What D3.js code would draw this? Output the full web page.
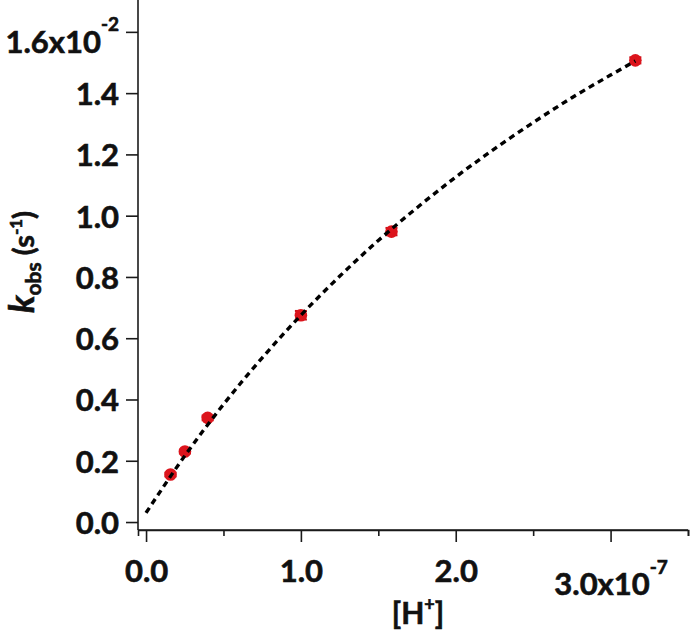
<!DOCTYPE html>
<html>
<head>
<meta charset="utf-8">
<script src="https://cdn.jsdelivr.net/npm/d3@7"></script>
<style>
  html, body { margin: 0; padding: 0; background: #fff; }
  svg text { font-family: Lato, "DejaVu Sans", sans-serif; font-weight: 700; fill: #111;
             stroke: #111; stroke-width: 0.6px; }
</style>
</head>
<body>
<svg id="chart" width="693" height="632"></svg>
<script>
// measured points: [H+] (x10^-7) vs kobs (x10^-2 s^-1)
const hConc = [0.158, 0.251, 0.398, 1.0, 1.585, 3.16];
const kObs = [0.155, 0.230, 0.340, 0.675, 0.948, 1.507];
const kErr = [0.006, 0.006, 0.008, 0.014, 0.012, 0.010];

// fitted curve
const fitX = [0, 0.25, 0.5, 0.75, 1.0, 1.25, 1.5, 1.75, 2.0, 2.25, 2.5, 2.75, 3.0, 3.16];
const fitY = [0.030, 0.216, 0.384, 0.536, 0.675, 0.802, 0.919, 1.026, 1.126, 1.218, 1.304, 1.385, 1.459, 1.505];

const xMajor = [0, 1, 2, 3];
const xMinor = [0.5, 1.5, 2.5, 3.5];
const yMajor = [0, 0.2, 0.4, 0.6, 0.8, 1.0, 1.2, 1.4, 1.6];

const svg = d3.select("#chart");

const x = d3.scaleLinear().domain([-0.052, 3.5]).range([138, 688]);
const y = d3.scaleLinear().domain([-0.026, 1.704]).range([530, 0]);

const ink = "#1a1a1a";

// y axis
const yAxis = svg.append("g")
  .attr("transform", "translate(138,0)")
  .call(d3.axisLeft(y).tickValues(yMajor).tickSize(12).tickPadding(7)
    .tickFormat(d3.format(".1f")));

yAxis.selectAll("text").style("font-size", "31px").attr("dy", "0.37em");

// top label carries the exponent
yAxis.selectAll(".tick").filter(d => d === 1.6).select("text")
  .text(null)
  .attr("dy", "0.66em")
  .call(t => {
    t.append("tspan").text("1.6x10");
    t.append("tspan").attr("dy", -22).style("font-size", "19px").text("-2");
  });

// x axis, major and minor ticks
const xAxis = svg.append("g")
  .attr("transform", "translate(0,530)")
  .call(d3.axisBottom(x).tickValues(xMajor).tickSize(12).tickPadding(18)
    .tickFormat(d3.format(".1f")));

xAxis.selectAll("text").style("font-size", "31px");

xAxis.selectAll(".tick").filter(d => d === 3).select("text")
  .text(null)
  .attr("dy", "1.12em")
  .call(t => {
    t.append("tspan").text("3.0x10");
    t.append("tspan").attr("dy", -21).style("font-size", "19px").text("-7");
  });

svg.append("g")
  .attr("transform", "translate(0,530)")
  .call(d3.axisBottom(x).tickValues(xMinor).tickSize(6).tickFormat(""));

svg.selectAll(".domain").attr("stroke", ink).attr("stroke-width", 1.6);
svg.selectAll(".tick line").attr("stroke", ink).attr("stroke-width", 1.6);

// square off the axis ends (no outer ticks)
yAxis.select(".domain").attr("d", `M0,${y.range()[1]}V${y.range()[0]}`);
xAxis.select(".domain").attr("d", `M${x.range()[0]},0H${x.range()[1]}`);

// data points with error bars
const pts = hConc.map((h, i) => ({ h, k: kObs[i], e: kErr[i] }));

const err = svg.append("g").attr("stroke", "#c8101a").attr("stroke-width", 2);
pts.forEach(p => {
  err.append("line")
    .attr("x1", x(p.h)).attr("x2", x(p.h))
    .attr("y1", y(p.k - p.e)).attr("y2", y(p.k + p.e));
  [p.k - p.e, p.k + p.e].forEach(v => {
    err.append("line")
      .attr("x1", x(p.h) - 6).attr("x2", x(p.h) + 6)
      .attr("y1", y(v)).attr("y2", y(v));
  });
});

svg.append("g")
  .selectAll("circle")
  .data(pts)
  .join("circle")
  .attr("cx", d => x(d.h))
  .attr("cy", d => y(d.k))
  .attr("r", 6.3)
  .attr("fill", "#dc141c");

// dashed fit line, drawn over the markers
const line = d3.line()
  .x(d => x(d[0]))
  .y(d => y(d[1]))
  .curve(d3.curveMonotoneX);

svg.append("path")
  .datum(fitX.map((v, i) => [v, fitY[i]]))
  .attr("d", line)
  .attr("fill", "none")
  .attr("stroke", "#000")
  .attr("stroke-width", 3.4)
  .attr("stroke-dasharray", "6,4.5");

// axis titles
svg.append("text")
  .attr("x", 418)
  .attr("y", 624)
  .attr("text-anchor", "middle")
  .style("font-size", "30px")
  .call(t => {
    t.append("tspan").text("[H");
    t.append("tspan").attr("dy", -13).style("font-size", "18px").text("+");
    t.append("tspan").attr("dy", 13).text("]");
  });

svg.append("text")
  .attr("transform", "translate(34,262) rotate(-90)")
  .attr("text-anchor", "middle")
  .style("font-size", "29px")
  .call(t => {
    t.append("tspan").style("font-style", "italic").style("font-size", "35px").text("k");
    t.append("tspan").attr("dy", 7).style("font-size", "21px").text("obs");
    t.append("tspan").attr("dy", -7).text(" (s");
    t.append("tspan").attr("dy", -12).style("font-size", "17px").text("-1");
    t.append("tspan").attr("dy", 12).text(")");
  });
</script>
</body>
</html>
